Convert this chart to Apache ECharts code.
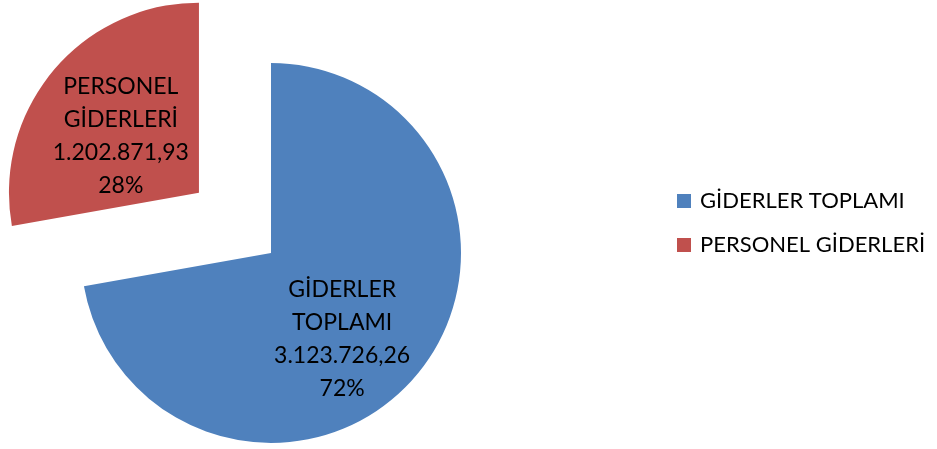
<!DOCTYPE html>
<html><head><meta charset="utf-8">
<script src="https://cdn.jsdelivr.net/npm/echarts@6/dist/echarts.min.js"></script>
<style>html,body{margin:0;padding:0;background:#fff}#c{width:937px;height:449px}</style>
</head><body><div id="c"></div>
<script>
var categories = ['GİDERLER TOPLAMI', 'PERSONEL GİDERLERİ'];
var labelNames = ['GİDERLER\nTOPLAMI', 'PERSONEL\nGİDERLERİ'];
var values = [3123726.26, 1202871.93];
var colors = ['#4F81BD', '#C0504D'];
var exploded = [false, true];

function fmtTR(v) {
  var parts = v.toFixed(2).split('.');
  return parts[0].replace(/\B(?=(\d{3})+(?!\d))/g, '.') + ',' + parts[1];
}
var labelShift = [[-4, 23], [-3, 6]];
var font = 'Lato';
var chart = echarts.init(document.getElementById('c'));
chart.setOption({
  backgroundColor: '#fff',
  animation: false,
  legend: {
    orient: 'vertical',
    left: 672, top: 185,
    icon: 'rect', itemWidth: 14, itemHeight: 14, itemGap: 22,
    textStyle: { fontFamily: font, fontSize: 22, color: '#000', padding: [0, 0, 0, 4] },
    data: categories
  },
  series: [{
    type: 'pie',
    center: [271, 253],
    radius: [0, 190],
    startAngle: 90,
    clockwise: true,
    selectedMode: 'multiple',
    selectedOffset: 94,
    emphasis: { disabled: true },
    label: {
      position: 'inside',
      fontFamily: font, fontSize: 23, lineHeight: 33, color: '#000', align: 'center',
      formatter: function (p) {
        return labelNames[p.dataIndex] + '\n' + fmtTR(p.value) + '\n' + Math.round(p.percent) + '%';
      }
    },
    labelLayout: function (p) {
      return { dx: labelShift[p.dataIndex][0], dy: labelShift[p.dataIndex][1] };
    },
    data: categories.map(function (n, i) {
      return { name: n, value: values[i], selected: exploded[i], itemStyle: { color: colors[i] } };
    })
  }]
});
</script></body></html>
